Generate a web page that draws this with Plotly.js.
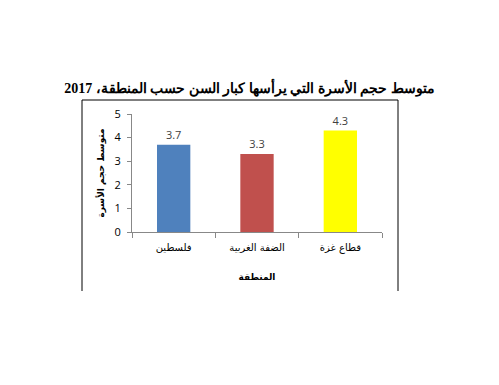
<!DOCTYPE html>
<html>
<head>
<meta charset="utf-8">
<script src="https://cdn.plot.ly/plotly-3.0.1.min.js"></script>
<style>html,body{margin:0;padding:0;background:#fff;}#chart{width:499px;height:385px;}</style>
</head>
<body>
<div id="chart"></div>
<script>
const regions = ["فلسطين", "الضفة الغربية", "قطاع غزة"];
const avgSize = [3.7, 3.3, 4.3];
const barColors = ["#4F81BD", "#C0504D", "#FFFF00"];
const yTicks = [0, 1, 2, 3, 4, 5];

const trace = {
  type: "bar",
  x: regions,
  y: avgSize,
  marker: {color: barColors},
  width: 0.4,
  text: avgSize.map(v => v.toFixed(1)),
  textposition: "outside",
  textfont: {family: "Open Sans, Liberation Sans, sans-serif", size: 11, color: "#404040"},
  cliponaxis: false,
  hoverinfo: "none"
};

const layout = {
  width: 499, height: 385,
  margin: {l: 132, r: 117, t: 114, b: 153},
  paper_bgcolor: "#fff", plot_bgcolor: "#fff",
  showlegend: false,
  title: {
    text: "<b>متوسط حجم الأسرة التي يرأسها كبار السن حسب المنطقة، 2017</b>",
    font: {family: "Liberation Serif, DejaVu Serif, serif", size: 14, color: "#000"},
    x: 0.5, xanchor: "center", y: 1 - 88/385, yanchor: "middle"
  },
  xaxis: {
    type: "category",
    showline: true, linecolor: "#888", linewidth: 1,
    ticks: "outside", tickson: "boundaries", ticklen: 5, tickcolor: "#888",
    ticklabelstandoff: 6,
    tickfont: {family: "DejaVu Sans, sans-serif", size: 10, color: "#000"},
    showgrid: false, zeroline: false,
    title: {text: "<b>المنطقة</b>", font: {family: "DejaVu Sans, sans-serif", size: 9, color: "#000"}, standoff: 20}
  },
  yaxis: {
    range: [0, 5], tickvals: yTicks,
    showline: true, linecolor: "#888", linewidth: 1,
    ticks: "outside", ticklen: 4, tickcolor: "#888",
    ticklabelstandoff: 4,
    tickfont: {family: "Open Sans, Liberation Sans, sans-serif", size: 11, color: "#000"},
    showgrid: false, zeroline: false,
    title: {text: "<b>متوسط حجم الأسرة</b>", font: {family: "DejaVu Sans, sans-serif", size: 9, color: "#000"}, standoff: 8}
  },
  shapes: [{
    type: "path", xref: "paper", yref: "paper",
    path: "M -0.2,-0.5 L -0.2,1.1186 L 1.064,1.1186 L 1.064,-0.5",
    line: {color: "#000", width: 1}
  }]
};

Plotly.newPlot("chart", [trace], layout, {displayModeBar: false, staticPlot: true});
</script>
</body>
</html>
